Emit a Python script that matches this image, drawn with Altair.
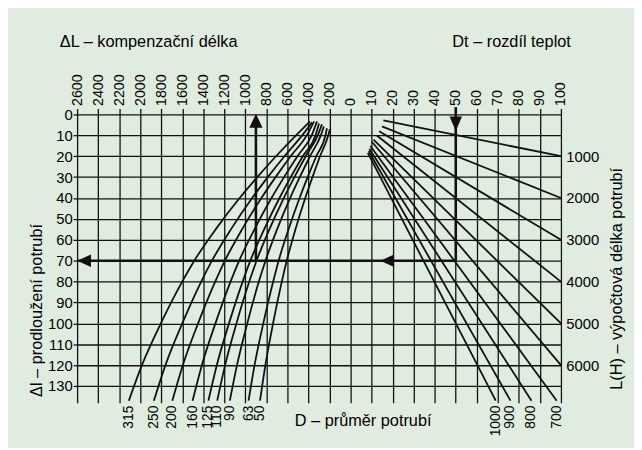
import altair as alt
import pandas as pd

# ---------------- data ----------------
# top scale: column index 0..23 ; 0..13 -> ΔL 2600..0 (mm), 13..23 -> Dt 0..100 (K)
top_ticks = list(range(0, 24))
left_ticks = list(range(0, 131, 10))
right_ticks = [20, 40, 60, 80, 100, 120]          # L(H) labels = value * 50

# left family: pipe diameter D -> compensation length ΔL at given elongation Δl
D_left = [315, 250, 200, 160, 125, 110, 90, 63, 50]
dl_rows = [10, 20, 30, 40, 55, 70, 80, 100, 120, 137]
top_dl = [3.3, 3.8, 3.3, 3.3, 4.3, 4.7, 5.7, 6.6, 7.1]
top_dL = [385, 366, 347, 319, 300, 272, 254, 225, 197]
dL_315 = [519, 709, 887, 1055, 1283, 1486, 1601, 1804, 1984, 2108]
dL_250 = [460, 629, 787, 936, 1138, 1318, 1420, 1600, 1760, 1870]
dL_200 = [417, 570, 713, 848, 1032, 1195, 1287, 1450, 1595, 1695]
dL_160 = [370, 505, 632, 752, 914, 1059, 1141, 1285, 1414, 1502]
dL_125 = [333, 454, 569, 676, 822, 953, 1026, 1156, 1272, 1352]
dL_110 = [312, 426, 534, 635, 772, 894, 963, 1085, 1193, 1268]
dL_90 = [283, 386, 483, 575, 699, 809, 872, 982, 1080, 1148]
dL_63 = [239, 326, 408, 485, 590, 684, 736, 830, 913, 970]
dL_50 = [212, 290, 362, 431, 524, 607, 654, 737, 810, 861]
dL_curves = [dL_315, dL_250, dL_200, dL_160, dL_125, dL_110, dL_90, dL_63, dL_50]

# right family: pipe length L(H) lines (start / end points, Dt and Δl)
L_right = [1000, 2000, 3000, 4000, 5000, 6000, 7000, 8000, 9000, 10000]
start_dt = [15.6, 14.9, 13.6, 12.5, 10.9, 10.2, 9.4, 8.9, 8.6, 8.2]
start_dl = [2.8, 5.7, 8.0, 10.1, 12.0, 13.2, 15.1, 16.4, 17.5, 18.4]
end_dt = [100, 100, 100, 100, 100, 100, 98, 86, 76, 69]
end_dl = [20, 40, 60, 80, 100, 120, 137, 137, 137, 137]
bottom_lbl = ["", "", "", "", "", "", "700", "800", "900", "1000"]

# example reading path (arrows)
arrow_id = ["a1", "a1", "a2", "a2", "a3", "a3"]
arrow_side = ["L", "L", "T", "L", "T", "T"]
arrow_v = [900, 900, 50, 2600, 50, 50]
arrow_dl = [70, 3, 70, 70, -3.5, 70]

UP = "M0,-1L-0.95,1L0.95,1Z"
DOWN = "M0,1.1L-0.9,-1L0.9,-1Z"
LEFT = "M-1,0L1,-0.9L1,0.9Z"
head_side = ["L", "L", "T", "T"]
head_v = [900, 2534, 17.4, 50]
head_dl = [3.0, 70, 70, 4.3]
head_shape = [UP, LEFT, LEFT, DOWN]

# ---------------- tables ----------------
rows = []
for D, tdl, tdL, vals in zip(D_left, top_dl, top_dL, dL_curves):
    rows.append(dict(curve=f"D{D}", side="L", v=tdL, dl=tdl))
    for r, v in zip(dl_rows, vals):
        rows.append(dict(curve=f"D{D}", side="L", v=v, dl=r))
left_df = pd.DataFrame(rows)

rows = []
for L, sd, sl, ed, el in zip(L_right, start_dt, start_dl, end_dt, end_dl):
    rows.append(dict(curve=f"L{L}", side="T", v=sd, dl=sl))
    rows.append(dict(curve=f"L{L}", side="T", v=ed, dl=el))
right_df = pd.DataFrame(rows)

arrow_df = pd.DataFrame(dict(aid=arrow_id, side=arrow_side, v=arrow_v, dl=arrow_dl,
                             idx=list(range(len(arrow_id)))))
head_df = pd.DataFrame(dict(side=head_side, v=head_v, dl=head_dl, shape=head_shape))
dlab_df = pd.DataFrame(dict(side="L", v=[c[-1] for c in dL_curves], dl=dl_rows[-1],
                            txt=[str(d) for d in D_left]))
llab_df = pd.DataFrame(dict(side="T", v=end_dt, dl=end_dl, txt=bottom_lbl))
llab_df = llab_df[llab_df.txt != ""]

U = "datum.side == 'L' ? 13 - datum.v / 200 : 13 + datum.v / 10"

# ---------------- scales & axes ----------------
FONT = "Liberation Sans"
INK = "#111111"
TFS = 16.5
xs = alt.Scale(domain=[0, 23], nice=False, zero=False)
ys = alt.Scale(domain=[0, 138], reverse=True, nice=False, zero=False)

top_axis = alt.Axis(
    orient="top", values=top_ticks,
    labelExpr="datum.value <= 13 ? (13 - datum.value) * 200 : (datum.value - 13) * 10",
    labelAngle=270, labelAlign="left", labelBaseline="middle", labelFontSize=14.5,
    labelPadding=3, labelFlush=False, labelOverlap=False, labelColor="black", labelFont=FONT,
    tickSize=6, tickColor=INK, tickWidth=1.3, domain=False,
    grid=True, gridColor=INK, gridWidth=1.3, gridOpacity=1,
    title="ΔL – kompenzační délka", titleX=-18, titleY=-68.5, titleAngle=0,
    titleAlign="left", titleBaseline="alphabetic", titleFontSize=TFS,
    titleFontWeight="normal", titleColor="black", titleFont=FONT)

left_axis = alt.Axis(
    orient="left", values=left_ticks, labelFontSize=15, labelPadding=1,
    labelOverlap=False, labelColor="black", labelFont=FONT,
    tickSize=4, tickColor=INK, tickWidth=1.3, domain=False,
    grid=True, gridColor=INK, gridWidth=1.3, gridOpacity=1,
    title="Δl – prodloužení potrubí", titleX=-36, titleY=198, titleAngle=270,
    titleAlign="center", titleBaseline="alphabetic", titleFontSize=TFS,
    titleFontWeight="normal", titleColor="black", titleFont=FONT)

right_axis = alt.Axis(
    orient="right", values=right_ticks, labelExpr="datum.value * 50",
    labelFontSize=15, labelPadding=5, labelOverlap=False, labelColor="black",
    labelFont=FONT, ticks=False, domain=False, grid=False,
    title="L(H) – výpočtová délka potrubí", titleX=61, titleY=166, titleAngle=270,
    titleAlign="center", titleBaseline="alphabetic", titleFontSize=TFS,
    titleFontWeight="normal", titleColor="black", titleFont=FONT)

bottom_axis = alt.Axis(
    orient="bottom", labels=False, ticks=False, domain=False, grid=False,
    title="D – průměr potrubí", titleX=220, titleY=23, titleAngle=0,
    titleAlign="left", titleBaseline="alphabetic", titleFontSize=TFS,
    titleFontWeight="normal", titleColor="black", titleFont=FONT)

# ---------------- layers ----------------
left_curves = alt.Chart(left_df).transform_calculate(u=U).mark_line(
    color=INK, strokeWidth=1.8, interpolate="monotone"
).encode(
    x=alt.X("u:Q", scale=xs, axis=top_axis),
    y=alt.Y("dl:Q", scale=ys, axis=left_axis),
    detail="curve:N", order="dl:Q")

right_lines = alt.Chart(right_df).transform_calculate(u=U).mark_line(
    color=INK, strokeWidth=1.8
).encode(
    x=alt.X("u:Q", scale=xs, axis=bottom_axis),
    y=alt.Y("dl:Q", scale=ys, axis=right_axis),
    detail="curve:N", order="dl:Q")

arrows = alt.Chart(arrow_df).transform_calculate(u=U).mark_line(
    color=INK, strokeWidth=2.6
).encode(
    x=alt.X("u:Q", scale=xs, axis=None),
    y=alt.Y("dl:Q", scale=ys, axis=None),
    detail="aid:N", order="idx:Q")

heads = alt.Chart(head_df).transform_calculate(u=U).mark_point(
    filled=True, color=INK, opacity=1, size=196, strokeWidth=0
).encode(
    x=alt.X("u:Q", scale=xs, axis=None),
    y=alt.Y("dl:Q", scale=ys, axis=None),
    shape=alt.Shape("shape:N", scale=None))

dlabels = alt.Chart(dlab_df).transform_calculate(u=U).mark_text(
    angle=270, align="right", baseline="middle", dx=-5, fontSize=14,
    font=FONT, color="black"
).encode(
    x=alt.X("u:Q", scale=xs, axis=None),
    y=alt.Y("dl:Q", scale=ys, axis=None),
    text="txt:N")

llabels = alt.Chart(llab_df).transform_calculate(u=U).mark_text(
    angle=270, align="right", baseline="middle", dx=-5, fontSize=14,
    font=FONT, color="black"
).encode(
    x=alt.X("u:Q", scale=xs, axis=None),
    y=alt.Y("dl:Q", scale=ys, axis=None),
    text="txt:N")

dt_title = alt.Chart(pd.DataFrame({"t": ["Dt – rozdíl teplot"]})).mark_text(
    align="left", baseline="alphabetic", fontSize=TFS, font=FONT, color="black"
).encode(x=alt.value(380), y=alt.value(-68.5), text="t:N")

chart = alt.layer(
    left_curves, right_lines, arrows, heads, dlabels, llabels, dt_title
).resolve_axis(x="independent", y="independent").properties(
    width=490, height=292,
    autosize=alt.AutoSizeParams(type="none"),
    padding={"left": 70, "top": 105, "right": 74, "bottom": 43},
).configure(background="#e0ecdf", font=FONT).configure_view(stroke=None)

chart.save("out.html", embed_options={"renderer": "svg", "actions": False})
